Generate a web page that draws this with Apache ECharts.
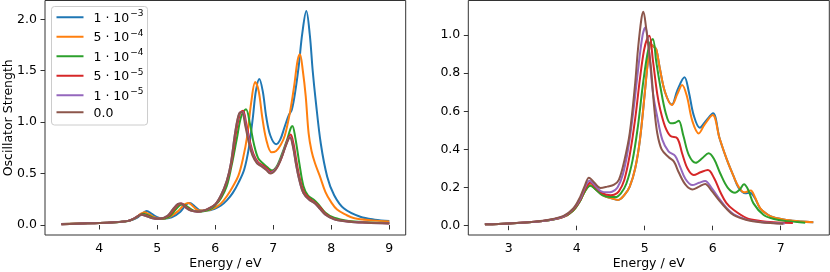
<!DOCTYPE html>
<html>
<head>
<meta charset="utf-8">
<script src="https://cdn.jsdelivr.net/npm/echarts@6/dist/echarts.min.js"></script>
<style>
html,body{margin:0;padding:0;background:#fff;}
#chart{width:830px;height:272px;}
</style>
</head>
<body>
<div id="chart"></div>
<script>
// Series names (legend): mantissa and exponent of the damping values
const seriesNames = ['1 · 10⁻³', '5 · 10⁻⁴', '1 · 10⁻⁴', '5 · 10⁻⁵', '1 · 10⁻⁵', '0.0'];
const legendMant = ['1 · 10', '5 · 10', '1 · 10', '5 · 10', '1 · 10', '0.0'];
const legendExp = ['−3', '−4', '−4', '−5', '−5', ''];
const colors = ['#1f77b4', '#ff7f0e', '#2ca02c', '#d62728', '#9467bd', '#8c564b'];

// Tick values
const leftXTicks = [4, 5, 6, 7, 8, 9];
const leftYTicks = [0.0, 0.5, 1.0, 1.5, 2.0];
const rightXTicks = [3, 4, 5, 6, 7];
const rightYTicks = [0.0, 0.2, 0.4, 0.6, 0.8, 1.0];

// ---- Left panel: [energy eV, oscillator strength] ----
const leftBlue = [[3.35,0.01],[3.8,0.018],[4.2,0.025],[4.5,0.04],[4.65,0.07],[4.75,0.115],[4.82,0.135],[4.9,0.11],[5.0,0.075],[5.1,0.062],[5.25,0.075],[5.4,0.13],[5.5,0.2],[5.56,0.215],[5.65,0.18],[5.75,0.14],[5.85,0.14],[6.0,0.16],[6.1,0.19],[6.2,0.24],[6.3,0.31],[6.4,0.41],[6.5,0.54],[6.58,0.75],[6.65,1.05],[6.7,1.3],[6.76,1.42],[6.82,1.3],[6.88,1.05],[6.95,0.87],[7.05,0.785],[7.12,0.83],[7.2,0.96],[7.27,1.07],[7.32,1.12],[7.38,1.3],[7.44,1.55],[7.5,1.86],[7.57,2.08],[7.63,1.85],[7.68,1.5],[7.73,1.22],[7.82,0.79],[7.93,0.47],[8.05,0.29],[8.22,0.16],[8.5,0.08],[8.75,0.052],[9.0,0.04]];
const leftOrange = [[3.35,0.01],[3.8,0.018],[4.2,0.025],[4.5,0.04],[4.63,0.07],[4.72,0.11],[4.78,0.125],[4.86,0.105],[4.95,0.075],[5.05,0.06],[5.2,0.075],[5.35,0.13],[5.47,0.2],[5.54,0.215],[5.62,0.18],[5.72,0.14],[5.85,0.14],[6.0,0.17],[6.1,0.21],[6.2,0.28],[6.3,0.37],[6.4,0.48],[6.48,0.65],[6.55,0.86],[6.62,1.19],[6.69,1.39],[6.75,1.3],[6.81,1.05],[6.88,0.83],[6.97,0.707],[7.05,0.72],[7.13,0.78],[7.2,0.87],[7.29,1.1],[7.36,1.35],[7.42,1.6],[7.46,1.66],[7.51,1.5],[7.56,1.25],[7.61,0.89],[7.66,0.72],[7.72,0.6],[7.8,0.48],[7.9,0.32],[8.0,0.22],[8.1,0.15],[8.25,0.1],[8.4,0.065],[8.7,0.045],[9.0,0.035]];
const leftGreen = [[3.35,0.008],[3.8,0.016],[4.2,0.024],[4.5,0.04],[4.62,0.065],[4.7,0.095],[4.76,0.11],[4.84,0.095],[4.95,0.068],[5.05,0.06],[5.2,0.08],[5.32,0.15],[5.4,0.195],[5.45,0.2],[5.53,0.175],[5.63,0.14],[5.75,0.13],[5.9,0.15],[6.0,0.19],[6.1,0.26],[6.2,0.38],[6.28,0.57],[6.37,0.83],[6.45,1.06],[6.53,1.125],[6.6,0.98],[6.67,0.78],[6.74,0.65],[6.82,0.6],[6.9,0.56],[6.98,0.53],[7.05,0.56],[7.13,0.66],[7.24,0.83],[7.3,0.94],[7.33,0.963],[7.38,0.85],[7.45,0.6],[7.52,0.38],[7.6,0.285],[7.7,0.245],[7.78,0.2],[7.9,0.12],[8.05,0.07],[8.3,0.04],[8.6,0.028],[9.0,0.02]];
const leftRed = [[3.35,0.008],[3.8,0.016],[4.2,0.024],[4.5,0.04],[4.62,0.07],[4.68,0.09],[4.74,0.102],[4.82,0.09],[4.95,0.065],[5.05,0.062],[5.2,0.09],[5.3,0.16],[5.38,0.205],[5.42,0.21],[5.5,0.175],[5.6,0.14],[5.72,0.13],[5.85,0.15],[6.0,0.2],[6.1,0.28],[6.2,0.42],[6.28,0.6],[6.36,0.9],[6.43,1.09],[6.48,1.11],[6.54,0.97],[6.6,0.81],[6.66,0.69],[6.74,0.61],[6.82,0.58],[6.9,0.545],[6.96,0.515],[7.05,0.55],[7.14,0.65],[7.23,0.8],[7.3,0.88],[7.35,0.79],[7.4,0.62],[7.45,0.47],[7.53,0.32],[7.63,0.255],[7.73,0.215],[7.81,0.17],[7.9,0.11],[8.05,0.06],[8.3,0.035],[8.6,0.024],[9.0,0.018]];
const leftPurple = [[3.35,0.008],[3.8,0.016],[4.2,0.024],[4.5,0.04],[4.62,0.07],[4.68,0.09],[4.73,0.1],[4.8,0.09],[4.92,0.065],[5.03,0.06],[5.18,0.09],[5.28,0.16],[5.36,0.205],[5.41,0.21],[5.48,0.175],[5.58,0.14],[5.7,0.13],[5.85,0.15],[6.0,0.2],[6.1,0.29],[6.2,0.43],[6.27,0.6],[6.35,0.92],[6.42,1.09],[6.47,1.1],[6.53,0.96],[6.59,0.8],[6.65,0.68],[6.73,0.6],[6.81,0.57],[6.89,0.535],[6.95,0.505],[7.04,0.54],[7.13,0.64],[7.22,0.78],[7.29,0.855],[7.34,0.77],[7.39,0.6],[7.44,0.46],[7.52,0.31],[7.62,0.245],[7.72,0.21],[7.8,0.16],[7.9,0.1],[8.05,0.055],[8.3,0.032],[8.6,0.022],[9.0,0.015]];
const leftBrown = [[3.35,0.008],[3.8,0.016],[4.2,0.024],[4.5,0.04],[4.62,0.07],[4.68,0.09],[4.73,0.1],[4.8,0.09],[4.92,0.065],[5.03,0.06],[5.18,0.09],[5.28,0.16],[5.36,0.205],[5.41,0.21],[5.48,0.175],[5.58,0.14],[5.7,0.13],[5.85,0.15],[6.0,0.2],[6.1,0.29],[6.2,0.43],[6.27,0.6],[6.35,0.92],[6.41,1.08],[6.46,1.1],[6.52,0.96],[6.58,0.8],[6.64,0.68],[6.72,0.6],[6.8,0.57],[6.88,0.535],[6.95,0.5],[7.04,0.535],[7.13,0.635],[7.22,0.775],[7.29,0.85],[7.34,0.76],[7.39,0.6],[7.44,0.46],[7.52,0.31],[7.62,0.245],[7.72,0.21],[7.8,0.16],[7.9,0.1],[8.05,0.055],[8.3,0.032],[8.6,0.022],[9.0,0.015]];

// ---- Right panel ----
const rightBlue = [[2.65,0.007],[3.0,0.012],[3.5,0.024],[3.8,0.045],[3.95,0.08],[4.05,0.13],[4.12,0.18],[4.2,0.213],[4.28,0.19],[4.38,0.16],[4.5,0.145],[4.61,0.135],[4.7,0.16],[4.78,0.205],[4.86,0.3],[4.93,0.45],[5.0,0.69],[5.05,0.87],[5.09,0.95],[5.13,0.94],[5.17,0.925],[5.22,0.83],[5.3,0.7],[5.4,0.635],[5.48,0.71],[5.585,0.778],[5.65,0.7],[5.72,0.58],[5.81,0.514],[5.9,0.55],[6.005,0.59],[6.1,0.46],[6.21,0.345],[6.31,0.257],[6.38,0.2],[6.48,0.17],[6.55,0.173],[6.62,0.145],[6.7,0.09],[6.8,0.06],[6.89,0.044],[7.09,0.03],[7.3,0.022],[7.48,0.018]];
const rightOrange = [[2.65,0.007],[3.0,0.012],[3.5,0.024],[3.8,0.045],[3.95,0.08],[4.05,0.13],[4.12,0.18],[4.2,0.213],[4.28,0.19],[4.38,0.16],[4.5,0.145],[4.61,0.135],[4.7,0.16],[4.78,0.205],[4.86,0.3],[4.93,0.45],[5.0,0.69],[5.05,0.87],[5.09,0.95],[5.13,0.94],[5.17,0.925],[5.22,0.83],[5.3,0.7],[5.4,0.633],[5.48,0.69],[5.55,0.738],[5.62,0.68],[5.7,0.55],[5.795,0.484],[5.88,0.53],[6.0,0.58],[6.1,0.46],[6.21,0.345],[6.31,0.257],[6.38,0.205],[6.46,0.175],[6.56,0.184],[6.62,0.15],[6.7,0.091],[6.8,0.06],[6.89,0.044],[7.09,0.03],[7.3,0.022],[7.48,0.018]];
const rightGreen = [[2.65,0.007],[3.0,0.012],[3.5,0.024],[3.8,0.046],[3.95,0.08],[4.05,0.13],[4.12,0.18],[4.2,0.21],[4.28,0.19],[4.38,0.16],[4.5,0.15],[4.57,0.15],[4.65,0.17],[4.73,0.22],[4.82,0.34],[4.9,0.52],[4.97,0.73],[5.03,0.88],[5.08,0.96],[5.12,0.979],[5.17,0.86],[5.23,0.73],[5.31,0.59],[5.38,0.537],[5.45,0.54],[5.5,0.55],[5.57,0.47],[5.65,0.37],[5.75,0.33],[5.85,0.355],[5.94,0.38],[6.02,0.35],[6.11,0.275],[6.22,0.2],[6.33,0.173],[6.4,0.19],[6.46,0.217],[6.52,0.19],[6.6,0.117],[6.75,0.056],[6.9,0.035],[7.1,0.024],[7.36,0.016]];
const rightRed = [[2.65,0.007],[3.0,0.012],[3.5,0.025],[3.8,0.047],[3.95,0.085],[4.05,0.135],[4.12,0.19],[4.2,0.225],[4.28,0.2],[4.38,0.17],[4.5,0.16],[4.55,0.162],[4.62,0.18],[4.7,0.24],[4.78,0.37],[4.86,0.56],[4.93,0.77],[4.99,0.92],[5.04,0.985],[5.07,0.996],[5.12,0.87],[5.185,0.69],[5.23,0.607],[5.3,0.52],[5.38,0.47],[5.48,0.458],[5.55,0.38],[5.63,0.3],[5.72,0.266],[5.82,0.28],[5.93,0.292],[6.02,0.25],[6.11,0.178],[6.2,0.12],[6.31,0.082],[6.5,0.04],[6.7,0.025],[6.9,0.018],[7.18,0.014]];
const rightPurple = [[2.65,0.007],[3.0,0.012],[3.5,0.025],[3.8,0.048],[3.95,0.088],[4.05,0.14],[4.12,0.2],[4.19,0.236],[4.27,0.21],[4.36,0.18],[4.45,0.175],[4.52,0.178],[4.6,0.2],[4.68,0.27],[4.76,0.41],[4.84,0.62],[4.91,0.84],[4.97,1.0],[5.01,1.04],[5.06,0.93],[5.12,0.7],[5.185,0.57],[5.26,0.45],[5.35,0.39],[5.45,0.365],[5.52,0.31],[5.6,0.245],[5.7,0.213],[5.8,0.225],[5.89,0.234],[5.98,0.2],[6.11,0.135],[6.2,0.095],[6.31,0.06],[6.5,0.032],[6.7,0.02],[7.06,0.012]];
const rightBrown = [[2.65,0.007],[3.0,0.012],[3.5,0.026],[3.8,0.05],[3.95,0.09],[4.05,0.15],[4.12,0.21],[4.18,0.252],[4.26,0.225],[4.35,0.198],[4.45,0.205],[4.55,0.215],[4.62,0.24],[4.7,0.34],[4.78,0.485],[4.86,0.747],[4.9,0.92],[4.95,1.08],[4.98,1.122],[5.02,1.04],[5.09,0.834],[5.14,0.62],[5.185,0.485],[5.25,0.4],[5.35,0.36],[5.43,0.336],[5.5,0.28],[5.6,0.215],[5.7,0.19],[5.8,0.205],[5.89,0.219],[5.98,0.185],[6.11,0.126],[6.2,0.09],[6.31,0.055],[6.5,0.03],[6.7,0.018],[7.04,0.01]];

const leftData = [leftBlue, leftOrange, leftGreen, leftRed, leftPurple, leftBrown];
const rightData = [rightBlue, rightOrange, rightGreen, rightRed, rightPurple, rightBrown];

const FONT = 'DejaVu Sans';
const FS = 12.5;
const spine = '#333';

function xAxis(gridIndex, min, max, ticks) {
  return {
    type: 'value', gridIndex, min, max,
    name: 'Energy / eV', nameLocation: 'middle', nameGap: 22, nameMoveOverlap: false,
    nameTextStyle: {fontFamily: FONT, fontSize: FS, color: '#000', verticalAlign: 'top'},
    axisLine: {show: false},
    axisTick: {show: true, length: 4.5, customValues: ticks, lineStyle: {color: spine, width: 1}},
    axisLabel: {customValues: ticks, margin: 7, fontFamily: FONT, fontSize: FS, color: '#000',
      formatter: v => String(v)},
    splitLine: {show: false}
  };
}
function yAxis(gridIndex, min, max, ticks, name) {
  return {
    type: 'value', gridIndex, min, max,
    name: name, nameLocation: 'middle', nameGap: 30, nameMoveOverlap: false,
    nameTextStyle: {fontFamily: FONT, fontSize: FS, color: '#000'},
    axisLine: {show: false},
    axisTick: {show: true, length: 4.5, customValues: ticks, lineStyle: {color: spine, width: 1}},
    axisLabel: {customValues: ticks, margin: 8, fontFamily: FONT, fontSize: FS, color: '#000',
      formatter: v => v.toFixed(1)},
    splitLine: {show: false}
  };
}

const series = [];
leftData.forEach((d, i) => series.push({
  name: seriesNames[i], type: 'line', xAxisIndex: 0, yAxisIndex: 0, data: d,
  smooth: 0.35, showSymbol: false, symbol: 'none',
  lineStyle: {color: colors[i], width: 2}, itemStyle: {color: colors[i]}, z: 2 + i
}));
rightData.forEach((d, i) => series.push({
  name: seriesNames[i], type: 'line', xAxisIndex: 1, yAxisIndex: 1, data: d,
  smooth: 0.35, showSymbol: false, symbol: 'none',
  lineStyle: {color: colors[i], width: 2}, itemStyle: {color: colors[i]}, z: 2 + i
}));

const chart = echarts.init(document.getElementById('chart'), null, {renderer: 'canvas'});
chart.setOption({
  animation: false,
  backgroundColor: '#fff',
  grid: [
    {left: 45, top: 0.5, width: 360.7, height: 234.5, show: true, borderColor: spine, borderWidth: 1, backgroundColor: 'transparent', outerBoundsMode: 'none', containLabel: false},
    {left: 468.3, top: 0.5, width: 361, height: 234.5, show: true, borderColor: spine, borderWidth: 1, backgroundColor: 'transparent', outerBoundsMode: 'none', containLabel: false}
  ],
  xAxis: [xAxis(0, 3.0675, 9.2825, leftXTicks), xAxis(1, 2.406, 7.715, rightXTicks)],
  yAxis: [yAxis(0, -0.0972, 2.183, leftYTicks, 'Oscillator Strength'), yAxis(1, -0.0488, 1.181, rightYTicks, '')],
  legend: {
    data: seriesNames,
    orient: 'vertical', left: 51.5, top: 6.5,
    itemWidth: 27, itemHeight: 2, itemGap: 4, icon: 'rect',
    padding: [3, 4, 5, 5],
    backgroundColor: 'rgba(255,255,255,0.8)', borderColor: '#ccc', borderWidth: 1, borderRadius: 3,
    formatter: name => {
      const i = seriesNames.indexOf(name);
      return legendExp[i] ? '{b|' + legendMant[i] + '}{s|' + legendExp[i] + '}' : '{b|' + legendMant[i] + '}';
    },
    textStyle: {
      fontFamily: FONT, fontSize: FS, color: '#000', padding: [0, 0, 0, 5],
      rich: {
        b: {fontFamily: FONT, fontSize: FS, color: '#000', lineHeight: 15.5, verticalAlign: 'bottom'},
        s: {fontFamily: FONT, fontSize: 9, color: '#000', lineHeight: 15.5, verticalAlign: 'top', padding: [0, 0, 0, 1]}
      }
    }
  },
  series
});
</script>
</body>
</html>
